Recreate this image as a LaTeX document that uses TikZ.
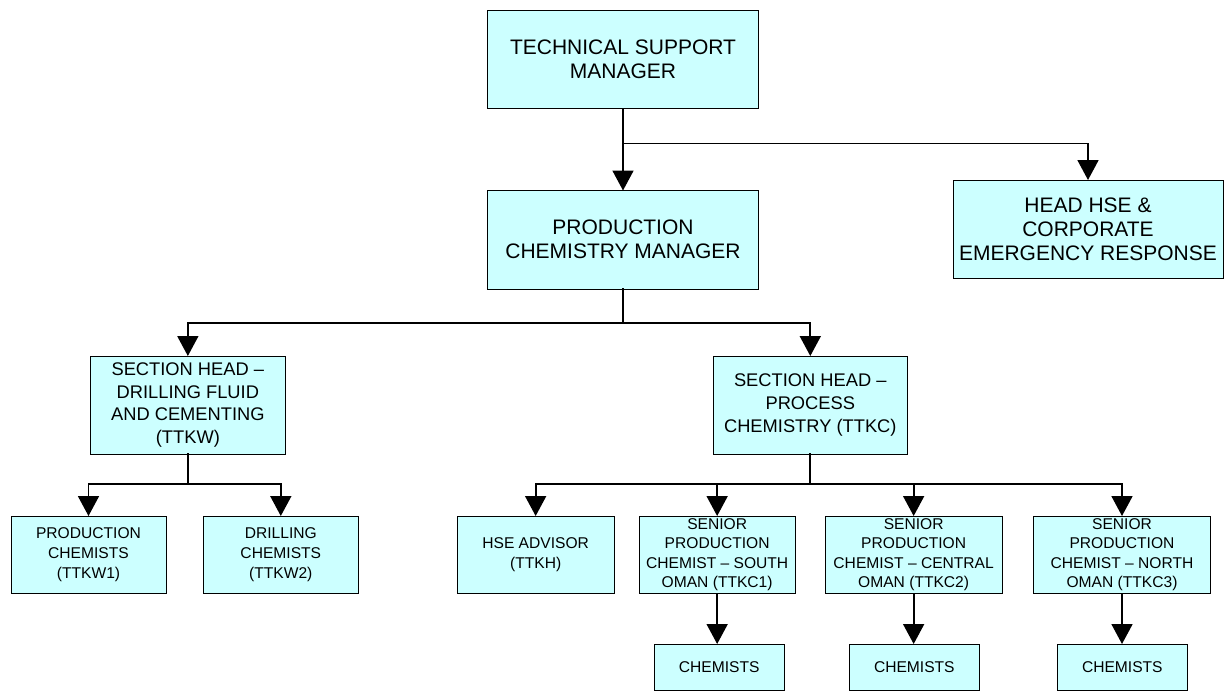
\documentclass[tikz,border=0pt]{standalone}
\usepackage{fontspec}
\setmainfont{Liberation Sans}
\usetikzlibrary{arrows.meta}
\definecolor{boxfill}{HTML}{CCFFFF}
\tikzset{
  box/.style={draw=black, line width=1pt, fill=boxfill, inner sep=0pt, outer sep=0pt, align=center, text=black},
  bigtxt/.style={font=\fontsize{21}{24}\selectfont},
  midtxt/.style={font=\fontsize{18.3}{22.7}\selectfont},
  smalltxt/.style={font=\fontsize{15.6}{19.6}\selectfont},
  conn/.style={draw=black, line width=1.8pt, line cap=rect},
  arr/.style={-{Triangle[width=21pt,length=20pt]}, line cap=butt},
}
\begin{document}
\begin{tikzpicture}[x=1pt,y=-1pt]
\useasboundingbox (0,0) rectangle (1224,691);
% level 1
\node[box,bigtxt,minimum width=271pt,minimum height=98pt] (tsm) at (623,59.5) {TECHNICAL SUPPORT\\MANAGER};
\node[box,bigtxt,minimum width=271pt,minimum height=98.5pt] (pcm) at (623,239.75) {PRODUCTION\\CHEMISTRY MANAGER};
\node[box,bigtxt,minimum width=270pt,minimum height=98.5pt] (hse) at (1088,229.25) {HEAD HSE \&\\CORPORATE\\EMERGENCY RESPONSE};
% section heads
\node[box,midtxt,minimum width=194.3pt,minimum height=98pt] (df) at (187.85,405) {SECTION HEAD --\\DRILLING FLUID\\AND CEMENTING\\(TTKW)};
\node[box,midtxt,minimum width=194pt,minimum height=98pt] (psec) at (810.3,405) {SECTION HEAD --\\PROCESS\\CHEMISTRY (TTKC)};
% level 3
\node[box,smalltxt,minimum width=155pt,minimum height=77.3pt] (pch) at (88.5,554.65) {PRODUCTION\\CHEMISTS\\(TTKW1)};
\node[box,smalltxt,minimum width=155pt,minimum height=77.3pt] (dch) at (280.8,554.65) {DRILLING\\CHEMISTS\\(TTKW2)};
\node[box,smalltxt,minimum width=156.7pt,minimum height=77.3pt] (hsea) at (535.65,554.65) {HSE ADVISOR\\(TTKH)};
\node[box,smalltxt,minimum width=155.7pt,minimum height=77.3pt] (spcs) at (717.15,554.65) {SENIOR\\PRODUCTION\\CHEMIST -- SOUTH\\OMAN (TTKC1)};
\node[box,smalltxt,minimum width=177.3pt,minimum height=77.3pt] (spcc) at (913.65,554.65) {SENIOR\\PRODUCTION\\CHEMIST -- CENTRAL\\OMAN (TTKC2)};
\node[box,smalltxt,minimum width=177.4pt,minimum height=77.3pt] (spcn) at (1122,554.65) {SENIOR\\PRODUCTION\\CHEMIST -- NORTH\\OMAN (TTKC3)};
% level 4
\node[box,smalltxt,minimum width=129.7pt,minimum height=46pt] (chs) at (719.15,667) {CHEMISTS};
\node[box,smalltxt,minimum width=130pt,minimum height=46pt] (chc) at (914.3,667) {CHEMISTS};
\node[box,smalltxt,minimum width=130pt,minimum height=46pt] (chn) at (1122.3,667) {CHEMISTS};
% connectors
\coordinate (tj) at (623,143.5);
\coordinate (pj) at (623,322.7);
\coordinate (dj) at (187.85,484);
\coordinate (sj) at (810.3,484);
\draw[conn,arr] (tsm.south) -- (pcm.north);
\draw[conn,arr] (tj) -| (hse.north);
\draw[conn] (pcm.south) -- (pj);
\draw[conn,arr] (pj) -| (df.north);
\draw[conn,arr] (pj) -| (psec.north);
\draw[conn] (df.south) -- (dj);
\draw[conn,arr] (dj) -| (pch.north);
\draw[conn,arr] (dj) -| (dch.north);
\draw[conn] (psec.south) -- (sj);
\draw[conn,arr] (sj) -| (hsea.north);
\draw[conn,arr] (sj) -| (spcs.north);
\draw[conn,arr] (sj) -| (spcc.north);
\draw[conn,arr] (sj) -| (spcn.north);
\draw[conn,arr] (spcs.south) -- (spcs.south |- chs.north);
\draw[conn,arr] (spcc.south) -- (spcc.south |- chc.north);
\draw[conn,arr] (spcn.south) -- (spcn.south |- chn.north);
\end{tikzpicture}
\end{document}
